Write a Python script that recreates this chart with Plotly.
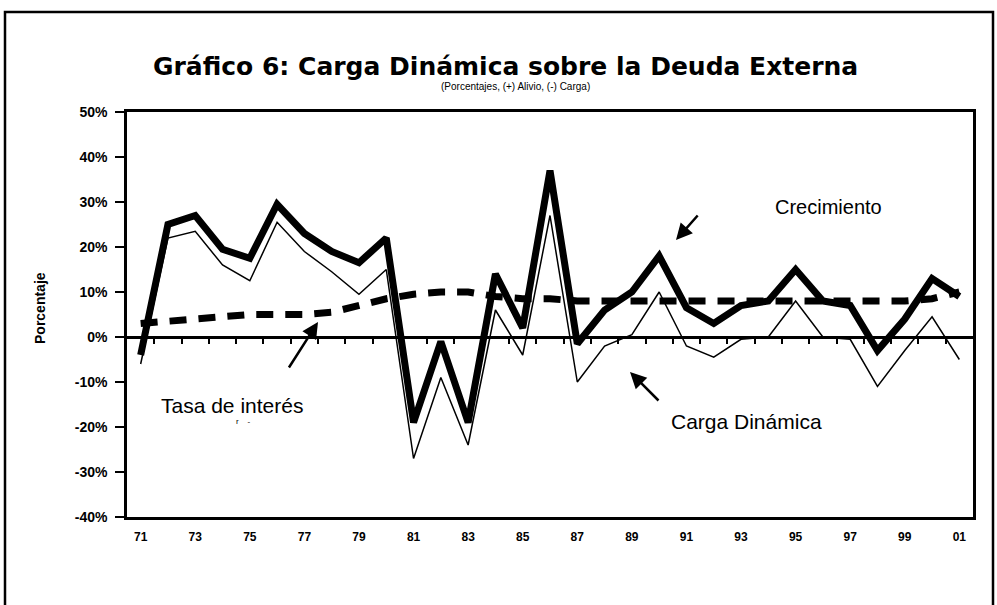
import plotly.graph_objects as go

# ---------------- data ----------------
years = list(range(1971, 2002))

crecimiento = [-4, 25, 27, 19.5, 17.5, 29.5, 23, 19, 16.5, 22,
               -19, -1, -19, 14, 2, 37, -1.5, 6, 10, 18,
               6.5, 3, 7, 8, 15, 8, 7, -3, 4, 13, 9]

carga_dinamica = [-6, 22, 23.5, 16, 12.5, 25.5, 19, 14.5, 9.5, 15,
                  -27, -9, -24, 6, -4, 27, -10, -2, 0.5, 10,
                  -2, -4.5, -0.5, 0, 8, 0, -0.5, -11, -3, 4.5, -5]

tasa_interes = [3, 3.5, 4, 4.5, 5, 5, 5, 5.5, 7, 8.5,
                9.5, 10, 10, 9, 8.5, 8.5, 8, 8, 8, 8,
                8, 8, 8, 8, 8, 8, 8, 8, 8, 8.5, 10]

x_tick_years = [1971, 1973, 1975, 1977, 1979, 1981, 1983, 1985,
                1987, 1989, 1991, 1993, 1995, 1997, 1999, 2001]
x_tick_labels = ["71", "73", "75", "77", "79", "81", "83", "85",
                 "87", "89", "91", "93", "95", "97", "99", "01"]
y_tick_vals = [-40, -30, -20, -10, 0, 10, 20, 30, 40, 50]
y_tick_labels = ["-40%", "-30%", "-20%", "-10%", "0%", "10%", "20%", "30%", "40%", "50%"]
boundary_ticks = [y + 0.5 for y in years[:-1]]

# ---------------- layout geometry (pixels) ----------------
W, H = 997, 605
L, R, T, B = 127, 973, 112, 517
FONT = "Liberation Sans, Arial, sans-serif"
TITLE_FONT = "DejaVu Sans, Verdana, sans-serif"


def px_x(p):
    return (p - L) / (R - L)


def px_y(p):
    return (B - p) / (B - T)


fig = go.Figure()

fig.add_trace(go.Scatter(
    x=years, y=tasa_interes, mode="lines", name="Tasa de interés",
    line=dict(color="black", width=7, dash="17px,12px"),
    hoverinfo="skip"))

fig.add_trace(go.Scatter(
    x=years, y=crecimiento, mode="lines", name="Crecimiento",
    line=dict(color="black", width=7),
    hoverinfo="skip"))

fig.add_trace(go.Scatter(
    x=years, y=carga_dinamica, mode="lines", name="Carga Dinámica",
    line=dict(color="black", width=1.5),
    xaxis="x2", hoverinfo="skip"))

zero_pos = (0 - y_tick_vals[0]) / (y_tick_vals[-1] - y_tick_vals[0])

fig.update_layout(
    width=W, height=H,
    margin=dict(l=L, r=W - R, t=T, b=H - B, pad=0),
    paper_bgcolor="white", plot_bgcolor="white",
    showlegend=False,
    font=dict(family=FONT, color="black"),
    xaxis=dict(
        range=[1970.5, 2001.5], tickvals=x_tick_years, ticktext=x_tick_labels,
        showgrid=False, zeroline=False, showline=True, linecolor="black",
        linewidth=2.5, mirror=True, ticks="", ticklabelstandoff=7,
        tickfont=dict(size=12, family=FONT, color="black", weight="bold")),
    xaxis2=dict(
        range=[1970.5, 2001.5], overlaying="x", anchor="free", position=zero_pos,
        side="bottom", tickvals=boundary_ticks, showticklabels=False,
        ticks="outside", ticklen=5, tickwidth=2, tickcolor="black",
        showline=True, linecolor="black", linewidth=3, showgrid=False,
        zeroline=False),
    yaxis=dict(
        range=[-40, 50], tickvals=y_tick_vals, ticktext=y_tick_labels,
        showgrid=False, zeroline=False, showline=True, linecolor="black",
        linewidth=2.5, mirror=True, ticks="outside", ticklen=9, tickwidth=2,
        tickcolor="black", ticklabelstandoff=5,
        tickfont=dict(size=14, family=FONT, color="black", weight="bold")),
)

# outer frame
fig.add_shape(type="rect", xref="paper", yref="paper",
              x0=px_x(5), x1=px_x(993), y0=px_y(640), y1=px_y(12),
              line=dict(color="black", width=2.5), fillcolor="rgba(0,0,0,0)",
              layer="above")


def label(x, y, text, size, angle=0, family=FONT):
    fig.add_annotation(xref="paper", yref="paper", x=px_x(x), y=px_y(y),
                       xanchor="center", yanchor="middle", text=text,
                       textangle=angle, showarrow=False,
                       font=dict(size=size, family=family, color="black"))


# titles
label(505, 67, "<b>Gráfico 6: Carga Dinámica sobre la Deuda Externa</b>", 25,
      family=TITLE_FONT)
label(515, 87, "(Porcentajes, (+) Alivio, (-) Carga)", 10)
label(40, 308, "<b>Porcentaje</b>", 14, angle=-90)

# series labels
label(828, 207, "Crecimiento", 20)
label(746, 421, "Carga Dinámica", 21)
label(232, 405, "Tasa de interés", 21)
label(243, 421, "r    -", 8)

# arrows (head, tail in pixels)
arrows = [((676, 240), (699, 214)),
          ((318, 322), (288, 369)),
          ((630, 372), (660, 402))]
for (hx, hy), (tx, ty) in arrows:
    fig.add_annotation(xref="paper", yref="paper", x=px_x(hx), y=px_y(hy),
                       ax=tx - hx, ay=ty - hy, text="", showarrow=True,
                       arrowhead=2, arrowsize=1.3, arrowwidth=2.5,
                       arrowcolor="black")

fig.write_html("out.html", config={"displayModeBar": False},
               post_script="document.body.style.margin='0';")
